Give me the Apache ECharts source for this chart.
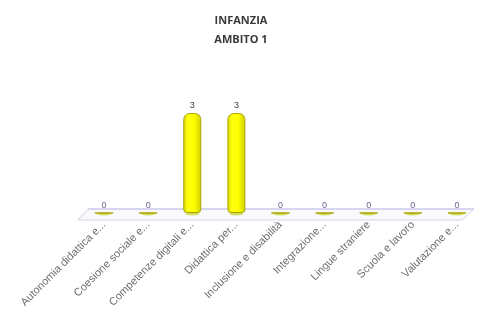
<!DOCTYPE html>
<html>
<head>
<meta charset="utf-8">
<script src="https://cdn.jsdelivr.net/npm/echarts@6/dist/echarts.min.js"></script>
<style>
  html, body { margin: 0; padding: 0; background: #fff; }
  #chart { width: 482px; height: 322px; }
</style>
</head>
<body>
<div id="chart"></div>
<script>
// Corsi per area tematica - Infanzia, Ambito 1
const categories = [
  'Autonomia didattica e...',
  'Coesione sociale e...',
  'Competenze digitali e...',
  'Didattica per...',
  'Inclusione e disabilità',
  'Integrazione...',
  'Lingue straniere',
  'Scuola e lavoro',
  'Valutazione e...'
];
const values = [0, 0, 3, 3, 0, 0, 0, 0, 0];
const titleLines = ['INFANZIA', 'AMBITO 1'];

const G = { left: 82, right: 3, top: 113, bottom: 109 };
const W = 482, H = 322;
const baseY = H - G.bottom;

const chart = echarts.init(document.getElementById('chart'), null, { renderer: 'canvas' });

chart.setOption({
  backgroundColor: '#ffffff',
  animation: false,
  title: {
    text: titleLines.join('\n'),
    left: 'center',
    top: 6,
    textStyle: {
      fontFamily: 'Open Sans, Liberation Sans, Arial, sans-serif',
      fontSize: 11,
      fontWeight: 'bold',
      color: '#3a3a3a',
      lineHeight: 19
    }
  },
  // floor of the plot area, drawn in perspective under the bars
  graphic: [
    {
      type: 'polygon',
      z: 0,
      shape: {
        points: [
          [G.left + 6, baseY - 4],
          [W - 8, baseY - 4],
          [W - 20, baseY + 7],
          [G.left - 4, baseY + 7]
        ]
      },
      style: { fill: '#fafafd', stroke: '#d4d4e4', lineWidth: 1 }
    },
    {
      type: 'line',
      z: 0,
      shape: { x1: G.left + 6, y1: baseY - 4, x2: W - 8, y2: baseY - 4 },
      style: { stroke: '#c4c4f0', lineWidth: 1 }
    }
  ],
  grid: G,
  xAxis: {
    type: 'category',
    data: categories,
    axisLine: { show: false },
    axisTick: { show: false },
    axisLabel: {
      interval: 0,
      rotate: 45,
      margin: 10,
      fontFamily: 'Liberation Sans, Arial, sans-serif',
      fontSize: 11,
      color: '#6e6e6e'
    }
  },
  yAxis: {
    type: 'value',
    min: 0,
    max: 3,
    show: false,
    splitLine: { show: false }
  },
  series: [
    {
      type: 'scatter',
      data: values.map(() => 0),
      symbol: 'circle',
      symbolSize: [14, 3],
      symbolOffset: [0, 1],
      itemStyle: { color: '#c6d63a' },
      z: 2,
      label: {
        show: true,
        position: 'top',
        distance: 2,
        formatter: (p) => values[p.dataIndex] === 0 ? '0' : '',
        fontFamily: 'Liberation Sans, Arial, sans-serif',
        fontSize: 9,
        color: '#3c3c6a'
      }
    },
    {
      type: 'bar',
      data: values,
      barWidth: 18,
      z: 3,
      itemStyle: {
        color: new echarts.graphic.LinearGradient(0, 0, 1, 0, [
          { offset: 0, color: '#d6d600' },
          { offset: 0.25, color: '#ffff10' },
          { offset: 0.6, color: '#ffff00' },
          { offset: 1, color: '#cfcf00' }
        ]),
        borderColor: '#a9a400',
        borderWidth: 1,
        borderRadius: [6, 6, 3, 3]
      },
      label: {
        show: true,
        position: 'top',
        distance: 3,
        formatter: (p) => p.value > 0 ? String(p.value) : '',
        fontFamily: 'Liberation Sans, Arial, sans-serif',
        fontSize: 9,
        color: '#3c3c4a'
      }
    }
  ]
});
</script>
</body>
</html>
